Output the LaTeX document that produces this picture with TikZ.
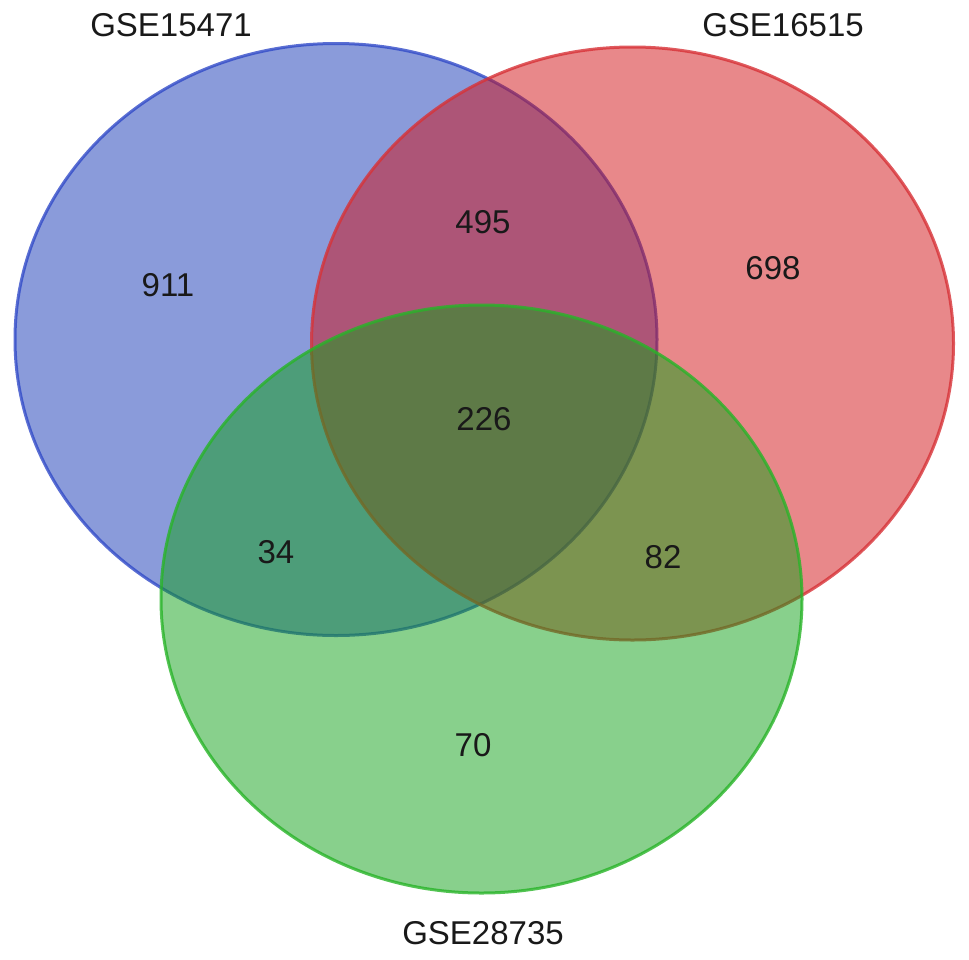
\documentclass[tikz,border=0pt]{standalone}
\usepackage{fontspec}
\setmainfont{Liberation Sans}
\definecolor{vblue}{RGB}{21,55,181}
\definecolor{vred}{RGB}{209,17,21}
\definecolor{vgreen}{RGB}{17,161,25}
\definecolor{sblue}{RGB}{50,75,200}
\definecolor{sred}{RGB}{215,50,55}
\definecolor{sgreen}{RGB}{40,180,40}
\begin{document}
\begin{tikzpicture}[x=1pt,y=-1pt,
  setshape/.style={fill opacity=0.5, draw opacity=0.8, line width=3pt},
  lbl/.style={inner sep=0pt, font=\fontsize{33}{37}\selectfont, text=black!90}]
\useasboundingbox (0,0) rectangle (969,959);
\draw[setshape, fill=vblue, draw=sblue] (336,339.5) ellipse [x radius=321pt, y radius=296pt];
\draw[setshape, fill=vred, draw=sred] (632.5,343.5) ellipse [x radius=321pt, y radius=296.5pt];
\draw[setshape, fill=vgreen, draw=sgreen] (481.5,599) ellipse [x radius=320.5pt, y radius=294pt];
\node[lbl] (a) at (171,25) {GSE15471};
\node[lbl] (b) at (783,25) {GSE16515};
\node[lbl] (c) at (483,933) {GSE28735};
\node[lbl] (n911) at (168,285) {911};
\node[lbl] (n495) at (483,222) {495};
\node[lbl] (n698) at (773,268) {698};
\node[lbl] (n226) at (484,419) {226};
\node[lbl] (n34) at (276,552) {34};
\node[lbl] (n82) at (663,557) {82};
\node[lbl] (n70) at (473,745) {70};
\end{tikzpicture}
\end{document}
